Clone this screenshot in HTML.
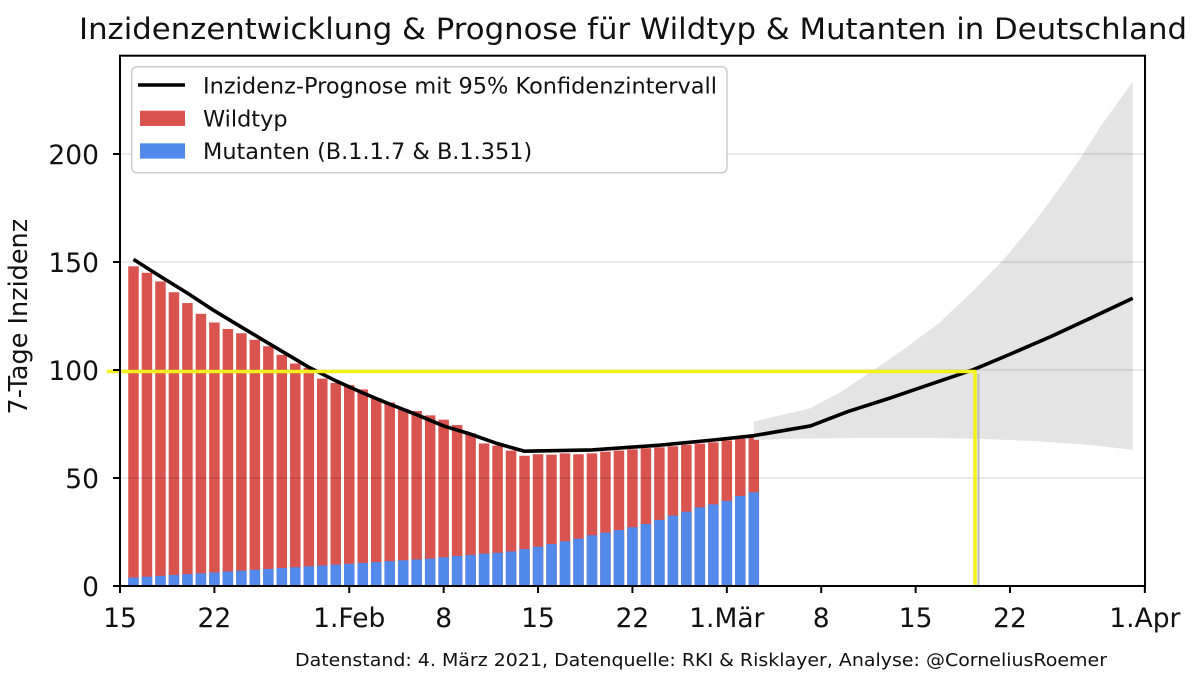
<!DOCTYPE html>
<html>
<head>
<meta charset="utf-8">
<style>
  html, body { margin: 0; padding: 0; background: #ffffff; }
  svg { display: block; }
  text { font-family: "DejaVu Sans", "Liberation Sans", sans-serif; fill: #111; }
</style>
</head>
<body>
<svg width="1200" height="678" viewBox="0 0 1200 678" xmlns="http://www.w3.org/2000/svg">
  <rect x="0" y="0" width="1200" height="678" fill="#ffffff"/>

  <!-- Title -->
  <text x="79" y="39" font-size="29.5" textLength="1108" lengthAdjust="spacingAndGlyphs">Inzidenzentwicklung &amp; Prognose für Wildtyp &amp; Mutanten in Deutschland</text>

  <!-- Red bars (total) -->
  <g fill="#d9534f">
    <rect x="128.24" y="266.32" width="10.5" height="319.68"/>
    <rect x="141.72" y="272.8" width="10.5" height="313.2"/>
    <rect x="155.21" y="281.44" width="10.5" height="304.56"/>
    <rect x="168.69" y="292.24" width="10.5" height="293.76"/>
    <rect x="182.18" y="303.04" width="10.5" height="282.96"/>
    <rect x="195.66" y="313.84" width="10.5" height="272.16"/>
    <rect x="209.15" y="322.48" width="10.5" height="263.52"/>
    <rect x="222.63" y="328.96" width="10.5" height="257.04"/>
    <rect x="236.12" y="333.28" width="10.5" height="252.72"/>
    <rect x="249.6" y="339.76" width="10.5" height="246.24"/>
    <rect x="263.09" y="346.24" width="10.5" height="239.76"/>
    <rect x="276.57" y="354.88" width="10.5" height="231.12"/>
    <rect x="290.06" y="363.52" width="10.5" height="222.48"/>
    <rect x="303.54" y="367.84" width="10.5" height="218.16"/>
    <rect x="317.03" y="378.64" width="10.5" height="207.36"/>
    <rect x="330.51" y="382.96" width="10.5" height="203.04"/>
    <rect x="344.0" y="385.12" width="10.5" height="200.88"/>
    <rect x="357.48" y="389.44" width="10.5" height="196.56"/>
    <rect x="370.97" y="398.08" width="10.5" height="187.92"/>
    <rect x="384.45" y="402.4" width="10.5" height="183.6"/>
    <rect x="397.94" y="408.88" width="10.5" height="177.12"/>
    <rect x="411.42" y="411.04" width="10.5" height="174.96"/>
    <rect x="424.91" y="415.36" width="10.5" height="170.64"/>
    <rect x="438.39" y="419.68" width="10.5" height="166.32"/>
    <rect x="451.88" y="425.08" width="10.5" height="160.92"/>
    <rect x="465.36" y="433.29" width="10.5" height="152.71"/>
    <rect x="478.85" y="443.44" width="10.5" height="142.56"/>
    <rect x="492.33" y="445.6" width="10.5" height="140.4"/>
    <rect x="505.82" y="450.57" width="10.5" height="135.43"/>
    <rect x="519.3" y="455.75" width="10.5" height="130.25"/>
    <rect x="532.79" y="454.24" width="10.5" height="131.76"/>
    <rect x="546.27" y="454.67" width="10.5" height="131.33"/>
    <rect x="559.76" y="453.38" width="10.5" height="132.62"/>
    <rect x="573.24" y="454.24" width="10.5" height="131.76"/>
    <rect x="586.73" y="453.38" width="10.5" height="132.62"/>
    <rect x="600.21" y="451.65" width="10.5" height="134.35"/>
    <rect x="613.7" y="450.57" width="10.5" height="135.43"/>
    <rect x="627.18" y="449.27" width="10.5" height="136.73"/>
    <rect x="640.67" y="448.19" width="10.5" height="137.81"/>
    <rect x="654.15" y="447.33" width="10.5" height="138.67"/>
    <rect x="667.64" y="446.25" width="10.5" height="139.75"/>
    <rect x="681.12" y="444.74" width="10.5" height="141.26"/>
    <rect x="694.61" y="443.66" width="10.5" height="142.34"/>
    <rect x="708.09" y="442.36" width="10.5" height="143.64"/>
    <rect x="721.58" y="440.42" width="10.5" height="145.58"/>
    <rect x="735.06" y="438.69" width="10.5" height="147.31"/>
    <rect x="748.55" y="436.74" width="10.5" height="149.26"/>
  </g>

  <!-- Blue bars (Mutanten) -->
  <g fill="#5489ec">
    <rect x="128.24" y="577.58" width="10.5" height="8.42"/>
    <rect x="141.72" y="576.71" width="10.5" height="9.29"/>
    <rect x="155.21" y="575.85" width="10.5" height="10.15"/>
    <rect x="168.69" y="574.98" width="10.5" height="11.02"/>
    <rect x="182.18" y="574.12" width="10.5" height="11.88"/>
    <rect x="195.66" y="573.26" width="10.5" height="12.74"/>
    <rect x="209.15" y="572.39" width="10.5" height="13.61"/>
    <rect x="222.63" y="571.53" width="10.5" height="14.47"/>
    <rect x="236.12" y="570.66" width="10.5" height="15.34"/>
    <rect x="249.6" y="569.8" width="10.5" height="16.2"/>
    <rect x="263.09" y="568.94" width="10.5" height="17.06"/>
    <rect x="276.57" y="568.07" width="10.5" height="17.93"/>
    <rect x="290.06" y="567.21" width="10.5" height="18.79"/>
    <rect x="303.54" y="566.34" width="10.5" height="19.66"/>
    <rect x="317.03" y="565.48" width="10.5" height="20.52"/>
    <rect x="330.51" y="564.62" width="10.5" height="21.38"/>
    <rect x="344.0" y="563.75" width="10.5" height="22.25"/>
    <rect x="357.48" y="562.89" width="10.5" height="23.11"/>
    <rect x="370.97" y="562.02" width="10.5" height="23.98"/>
    <rect x="384.45" y="561.16" width="10.5" height="24.84"/>
    <rect x="397.94" y="560.3" width="10.5" height="25.7"/>
    <rect x="411.42" y="559.43" width="10.5" height="26.57"/>
    <rect x="424.91" y="558.57" width="10.5" height="27.43"/>
    <rect x="438.39" y="557.27" width="10.5" height="28.73"/>
    <rect x="451.88" y="555.98" width="10.5" height="30.02"/>
    <rect x="465.36" y="554.9" width="10.5" height="31.1"/>
    <rect x="478.85" y="553.6" width="10.5" height="32.4"/>
    <rect x="492.33" y="552.74" width="10.5" height="33.26"/>
    <rect x="505.82" y="551.44" width="10.5" height="34.56"/>
    <rect x="519.3" y="549.06" width="10.5" height="36.94"/>
    <rect x="532.79" y="546.69" width="10.5" height="39.31"/>
    <rect x="546.27" y="544.1" width="10.5" height="41.9"/>
    <rect x="559.76" y="541.29" width="10.5" height="44.71"/>
    <rect x="573.24" y="538.7" width="10.5" height="47.3"/>
    <rect x="586.73" y="535.24" width="10.5" height="50.76"/>
    <rect x="600.21" y="532.65" width="10.5" height="53.35"/>
    <rect x="613.7" y="530.06" width="10.5" height="55.94"/>
    <rect x="627.18" y="527.25" width="10.5" height="58.75"/>
    <rect x="640.67" y="524.01" width="10.5" height="61.99"/>
    <rect x="654.15" y="519.9" width="10.5" height="66.1"/>
    <rect x="667.64" y="515.58" width="10.5" height="70.42"/>
    <rect x="681.12" y="511.7" width="10.5" height="74.3"/>
    <rect x="694.61" y="507.38" width="10.5" height="78.62"/>
    <rect x="708.09" y="504.35" width="10.5" height="81.65"/>
    <rect x="721.58" y="500.9" width="10.5" height="85.1"/>
    <rect x="735.06" y="495.93" width="10.5" height="90.07"/>
    <rect x="748.55" y="492.26" width="10.5" height="93.74"/>
  </g>

  <!-- Confidence band -->
  <polygon fill="#e4e4e4" points="753.8,421.62 810.43,408.23 841.45,391.6 871.11,371.73 902.13,350.56 938.54,323.34 969.56,294.4 1003.27,260.06 1030.24,227.44 1055.86,193.31 1077.44,162.64 1100.36,126.78 1132.72,81.64 1132.72,449.92 1090.92,444.95 1036.98,441.28 983.04,438.9 929.1,438.04 861.68,438.04 794.25,438.69 753.8,439.98"/>

  <!-- Gridlines -->
  <g stroke="rgba(0,0,0,0.11)" stroke-width="1.5">
    <line x1="120" y1="478" x2="1145" y2="478"/>
    <line x1="120" y1="370" x2="1145" y2="370"/>
    <line x1="120" y1="262" x2="1145" y2="262"/>
    <line x1="120" y1="154" x2="1145" y2="154"/>
  </g>

  <!-- Prognosis line -->
  <polyline fill="none" stroke="#000" stroke-width="3.6" stroke-linejoin="round" stroke-linecap="butt"
    points="133.49,259.41 160.46,276.47 187.43,293.1 214.4,310.82 241.37,327.02 268.34,343.22 295.31,359.2 308.79,367.19 335.76,380.8 362.73,392.9 389.7,404.13 416.67,414.71 443.64,425.94 470.61,434.15 497.58,443.66 524.55,451.22 591.98,449.92 659.4,445.17 713.34,439.98 753.8,435.66 810.43,425.94 848.19,411.47 888.65,398.51 929.1,384.69 973.6,369.57 1010.01,354.23 1050.47,336.74 1090.92,317.94 1132.72,298.29"/>

  <!-- Yellow annotation -->
  <line x1="978.5" y1="374" x2="978.5" y2="586" stroke="#b8b8b8" stroke-width="2"/>
  <polyline fill="none" stroke="#f4f01c" stroke-width="3.6" points="107,371.5 975,371.5 975,586"/>

  <!-- Spines -->
  <rect x="120" y="55.7" width="1025" height="530.3" fill="none" stroke="#000" stroke-width="2"/>

  <!-- Y ticks -->
  <g stroke="#000" stroke-width="2">
    <line x1="113" y1="586" x2="120" y2="586"/>
    <line x1="113" y1="478" x2="120" y2="478"/>
    <line x1="113" y1="370" x2="120" y2="370"/>
    <line x1="113" y1="262" x2="120" y2="262"/>
    <line x1="113" y1="154" x2="120" y2="154"/>
  </g>
  <g font-size="26.5" text-anchor="end">
    <text x="99" y="596">0</text>
    <text x="99" y="488">50</text>
    <text x="99" y="380">100</text>
    <text x="99" y="272">150</text>
    <text x="99" y="164">200</text>
  </g>

  <!-- X ticks -->
  <g stroke="#000" stroke-width="2">
    <line x1="120" y1="586" x2="120" y2="593"/>
    <line x1="214.4" y1="586" x2="214.4" y2="593"/>
    <line x1="349.25" y1="586" x2="349.25" y2="593"/>
    <line x1="443.64" y1="586" x2="443.64" y2="593"/>
    <line x1="538.04" y1="586" x2="538.04" y2="593"/>
    <line x1="632.43" y1="586" x2="632.43" y2="593"/>
    <line x1="726.83" y1="586" x2="726.83" y2="593"/>
    <line x1="821.22" y1="586" x2="821.22" y2="593"/>
    <line x1="915.62" y1="586" x2="915.62" y2="593"/>
    <line x1="1010.01" y1="586" x2="1010.01" y2="593"/>
    <line x1="1144.86" y1="586" x2="1144.86" y2="593"/>
  </g>
  <g font-size="26.5" text-anchor="middle">
    <text x="120" y="627">15</text>
    <text x="214.4" y="627">22</text>
    <text x="349.25" y="627">1.Feb</text>
    <text x="443.64" y="627">8</text>
    <text x="538.04" y="627">15</text>
    <text x="632.43" y="627">22</text>
    <text x="726.83" y="627">1.Mär</text>
    <text x="821.22" y="627">8</text>
    <text x="915.62" y="627">15</text>
    <text x="1010.01" y="627">22</text>
    <text x="1144.86" y="627">1.Apr</text>
  </g>

  <!-- Y axis label -->
  <text transform="translate(27,316.7) rotate(-90)" font-size="25.5" text-anchor="middle">7-Tage Inzidenz</text>

  <!-- Legend -->
  <rect x="131.7" y="66.7" width="595.3" height="106" rx="5" ry="5" fill="rgba(255,255,255,0.85)" stroke="#cccccc" stroke-width="1.5"/>
  <line x1="138" y1="85" x2="185" y2="85" stroke="#000" stroke-width="3.6"/>
  <rect x="140" y="110.7" width="45" height="15.3" fill="#d9534f"/>
  <rect x="140" y="143.3" width="45" height="15.3" fill="#5489ec"/>
  <g font-size="22.4">
    <text x="203" y="93.3" textLength="514" lengthAdjust="spacingAndGlyphs">Inzidenz-Prognose mit 95% Konfidenzintervall</text>
    <text x="203" y="126.7">Wildtyp</text>
    <text x="203" y="159">Mutanten (B.1.1.7 &amp; B.1.351)</text>
  </g>

  <!-- Footer -->
  <text x="295" y="666" font-size="18" textLength="812" lengthAdjust="spacingAndGlyphs">Datenstand: 4. März 2021, Datenquelle: RKI &amp; Risklayer, Analyse: @CorneliusRoemer</text>
</svg>
</body>
</html>
